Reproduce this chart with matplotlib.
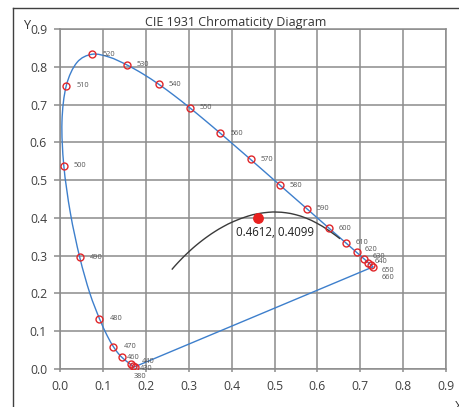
import matplotlib
matplotlib.use("Agg")
import matplotlib.pyplot as plt
from matplotlib.lines import Line2D
from matplotlib.path import Path
from matplotlib.patches import PathPatch

# Spectral locus (CIE 1931 2-degree), wavelength nm -> x, y
locus_nm = [380, 385, 390, 395, 400, 405, 410, 415, 420, 425, 430, 435, 440, 445, 450,
            455, 460, 465, 470, 475, 480, 485, 490, 495, 500, 505, 510, 515, 520, 525,
            530, 535, 540, 545, 550, 555, 560, 565, 570, 575, 580, 585, 590, 595, 600,
            605, 610, 615, 620, 625, 630, 635, 640, 645, 650, 655, 660]
locus_x = [0.1741, 0.1740, 0.1738, 0.1736, 0.1733, 0.1730, 0.1726, 0.1721, 0.1714, 0.1703,
           0.1689, 0.1669, 0.1644, 0.1611, 0.1566, 0.1510, 0.1440, 0.1355, 0.1241, 0.1096,
           0.0913, 0.0687, 0.0454, 0.0235, 0.0082, 0.0039, 0.0139, 0.0389, 0.0743, 0.1142,
           0.1547, 0.1929, 0.2296, 0.2658, 0.3016, 0.3373, 0.3731, 0.4087, 0.4441, 0.4788,
           0.5125, 0.5448, 0.5752, 0.6029, 0.6270, 0.6482, 0.6658, 0.6801, 0.6915, 0.7006,
           0.7079, 0.7140, 0.7190, 0.7230, 0.7260, 0.7283, 0.7300]
locus_y = [0.0050, 0.0050, 0.0049, 0.0049, 0.0048, 0.0048, 0.0048, 0.0048, 0.0051, 0.0058,
           0.0069, 0.0086, 0.0109, 0.0138, 0.0177, 0.0227, 0.0297, 0.0399, 0.0578, 0.0868,
           0.1327, 0.2007, 0.2950, 0.4127, 0.5384, 0.6548, 0.7502, 0.8120, 0.8338, 0.8262,
           0.8059, 0.7816, 0.7543, 0.7243, 0.6923, 0.6589, 0.6245, 0.5896, 0.5547, 0.5202,
           0.4866, 0.4544, 0.4242, 0.3965, 0.3725, 0.3514, 0.3340, 0.3197, 0.3083, 0.2993,
           0.2920, 0.2859, 0.2809, 0.2770, 0.2740, 0.2717, 0.2700]

# Labelled wavelengths (markers)
marked_nm = [380, 430, 440, 460, 470, 480, 490, 500, 510, 520, 530, 540, 550, 560, 570,
             580, 590, 600, 610, 620, 630, 640, 650, 660]
# label offsets in pixels (dx right, dy up)
label_off = {380: (-1.5, -10), 430: (7, -2.7), 440: (11, 3), 460: (5, 0),
             620: (7.5, 3), 630: (9, 2.5), 640: (6, 1.5), 650: (10, -4.8), 660: (8.5, -10.5)}

# Planckian locus (K -> x, y)
planck_T = [1000, 1200, 1400, 1600, 1800, 2000, 2200, 2400, 2700, 3000, 3500, 4000, 4500,
            5000, 5500, 6000, 6500, 7000, 8000, 9000, 10000, 12000, 15000, 17000]
planck_x = [0.6528, 0.6251, 0.5985, 0.5732, 0.5493, 0.5267, 0.5054, 0.4862, 0.4599, 0.4369,
            0.4053, 0.3805, 0.3608, 0.3451, 0.3325, 0.3221, 0.3135, 0.3064, 0.2952, 0.2869,
            0.2807, 0.2719, 0.2637, 0.2602]
planck_y = [0.3444, 0.3674, 0.3858, 0.3993, 0.4082, 0.4133, 0.4152, 0.4147, 0.4106, 0.4041,
            0.3907, 0.3768, 0.3636, 0.3516, 0.3411, 0.3318, 0.3237, 0.3166, 0.3048, 0.2956,
            0.2884, 0.2778, 0.2674, 0.2626]

point_xy = (0.4612, 0.3990)
point_label = "0.4612, 0.4099"

ticks = [0.0, 0.1, 0.2, 0.3, 0.4, 0.5, 0.6, 0.7, 0.8, 0.9]
tick_labels = ["0.0", "0.1", "0.2", "0.3", "0.4", "0.5", "0.6", "0.7", "0.8", "0.9"]


def smooth_path(xs, ys):
    """Smoothed line through the points (Catmull-Rom style Bezier, like a spreadsheet 'smooth line')."""
    n = len(xs)
    verts = [(xs[0], ys[0])]
    codes = [Path.MOVETO]
    for i in range(n - 1):
        p0 = (xs[max(i - 1, 0)], ys[max(i - 1, 0)])
        p1 = (xs[i], ys[i])
        p2 = (xs[i + 1], ys[i + 1])
        p3 = (xs[min(i + 2, n - 1)], ys[min(i + 2, n - 1)])
        c1 = (p1[0] + (p2[0] - p0[0]) / 6, p1[1] + (p2[1] - p0[1]) / 6)
        c2 = (p2[0] - (p3[0] - p1[0]) / 6, p2[1] - (p3[1] - p1[1]) / 6)
        verts += [c1, c2, p2]
        codes += [Path.CURVE4] * 3
    return verts, codes


FONT = "Open Sans"
W, H = 459, 407
fig = plt.figure(figsize=(W / 100, H / 100), dpi=100)
ax = fig.add_axes([60.3 / W, (H - 368.6) / H, (446 - 60.3) / W, (368.6 - 29.3) / H])
ax.set_xlim(0, 0.9)
ax.set_ylim(0, 0.9)

gridc = "#8c8c8c"
ax.set_xticks(ticks)
ax.set_yticks(ticks)
ax.set_xticklabels(tick_labels, fontfamily=FONT, fontsize=8.8, color="#404040")
ax.set_yticklabels(tick_labels, fontfamily=FONT, fontsize=8.8, color="#404040")
ax.tick_params(axis="y", length=4, width=1.1, color=gridc, pad=5.5)
ax.tick_params(axis="x", length=2.5, width=1.1, color=gridc, pad=6)
ax.grid(True, color=gridc, lw=1.1)
for s in ax.spines.values():
    s.set_color(gridc)
    s.set_linewidth(1.1)
ax.set_axisbelow(True)

# spectral locus (smoothed) + line of purples
blue = "#3d7fcc"
v, c = smooth_path(locus_x, locus_y)
v.append((locus_x[0], locus_y[0]))
c.append(Path.LINETO)
ax.add_patch(PathPatch(Path(v, c), fc="none", ec=blue, lw=1.0, zorder=3))

# planckian locus (smoothed)
v, c = smooth_path(planck_x, planck_y)
ax.add_patch(PathPatch(Path(v, c), fc="none", ec="#3a3a3a", lw=1.0, zorder=3))

# markers and labels
for nm in marked_nm:
    i = locus_nm.index(nm)
    x, y = locus_x[i], locus_y[i]
    ax.plot([x], [y], "o", ms=5.0, mfc="none", mec="#e0262a", mew=1.0, zorder=4)
    dx, dy = label_off.get(nm, (10, 0))
    ax.annotate(str(nm), (x, y), xytext=(dx * 0.72, dy * 0.72), textcoords="offset points",
                fontsize=5.3, color="#555555", ha="left", va="center", fontfamily=FONT, zorder=5)

ax.plot([point_xy[0]], [point_xy[1]], "o", ms=6.8, color="#e8201f", mec="#e8201f", zorder=6)
fig.text(236.5 / W, (H - 236) / H, point_label, fontsize=8.3, color="#222222",
         fontfamily=FONT, ha="left", va="baseline")

fig.text(236 / W, (H - 26) / H, "CIE 1931 Chromaticity Diagram", fontsize=9.0,
         color="#333333", fontfamily=FONT, ha="center", va="baseline")
fig.text(23 / W, (H - 28.7) / H, "Y", fontsize=9.2, color="#333333", fontfamily=FONT,
         ha="left", va="baseline")
fig.text(455 / W, (H - 410) / H, "X", fontsize=9.2, color="#333333", fontfamily=FONT,
         ha="left", va="baseline")

# outer frame lines
fig.add_artist(Line2D([13 / W, 1.0], [(H - 8) / H, (H - 8) / H], color="#404040", lw=1.0,
                      transform=fig.transFigure))
fig.add_artist(Line2D([13 / W, 13 / W], [0, (H - 8) / H], color="#404040", lw=1.0,
                      transform=fig.transFigure))

fig.savefig("out.png", dpi=100)
